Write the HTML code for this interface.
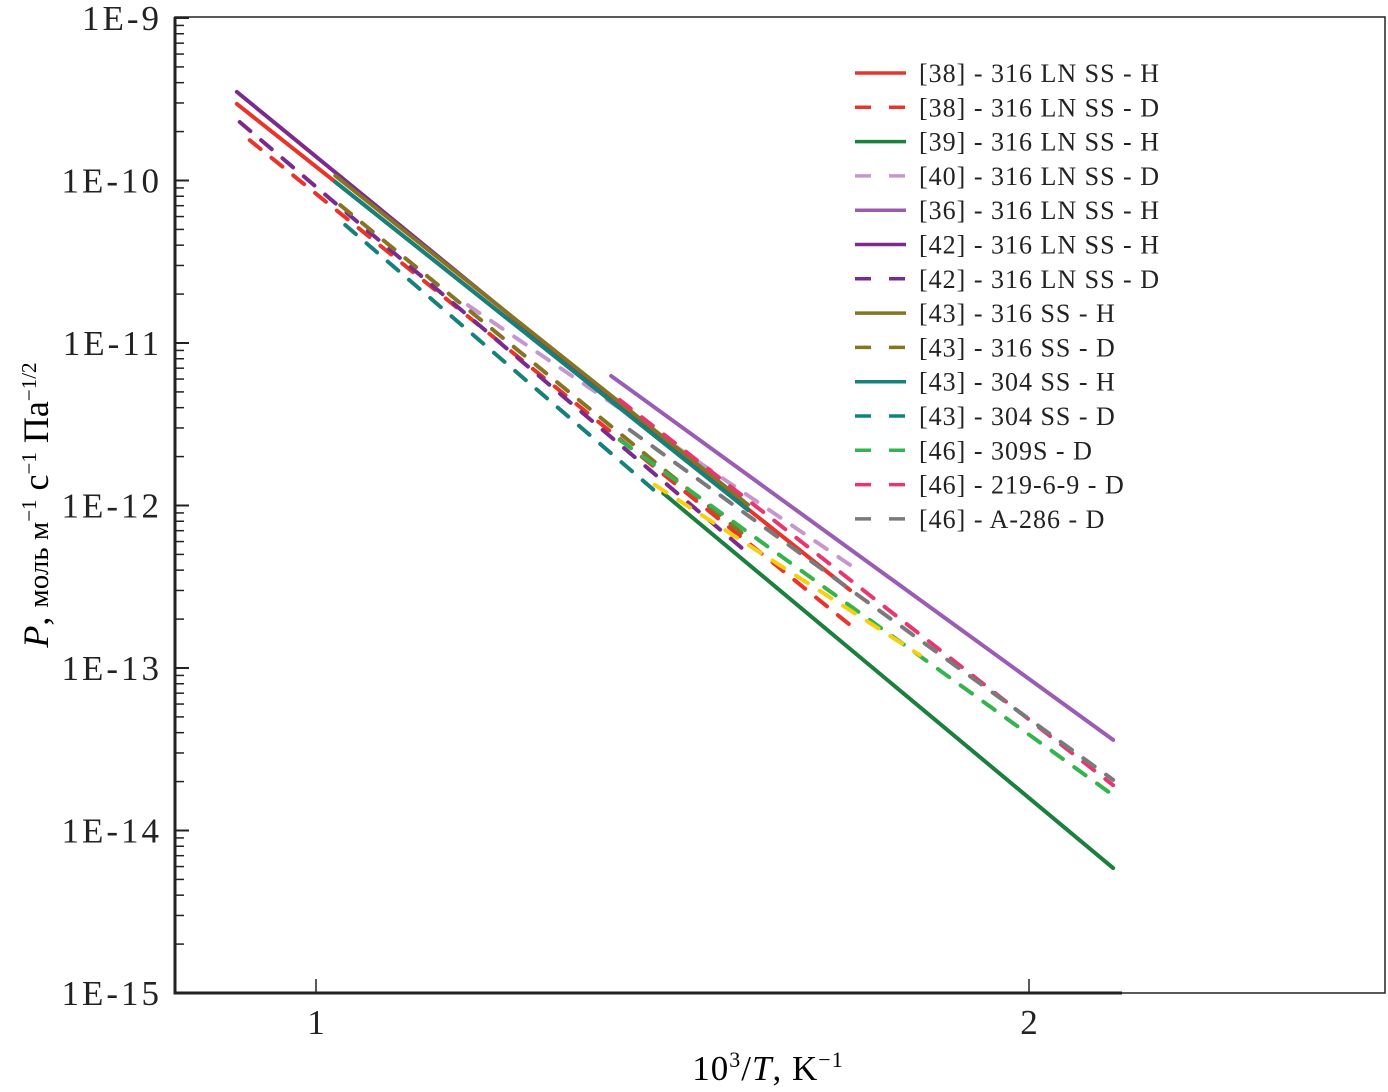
<!DOCTYPE html>
<html><head><meta charset="utf-8">
<style>
html,body{margin:0;padding:0;background:#fff;}
svg{display:block;font-family:"Liberation Serif","DejaVu Serif",serif;}
</style></head>
<body>
<svg id="chart" width="1388" height="1092" viewBox="0 0 1388 1092" xmlns="http://www.w3.org/2000/svg">
<g id="axes"></g>
<g id="series"></g>
<g id="legend"></g>
<text x="768" y="1080" font-size="35" letter-spacing="1" text-anchor="middle">10<tspan font-size="22" dy="-13">3</tspan><tspan dy="13">/</tspan><tspan font-style="italic">T</tspan>, K<tspan font-size="22" dy="-13">−1</tspan></text>
<text transform="translate(48,505) rotate(-90)" font-size="36" text-anchor="middle"><tspan font-style="italic">P</tspan>, <tspan font-size="29">моль м</tspan><tspan font-size="21" dy="-12">−1</tspan><tspan dy="12"> с</tspan><tspan font-size="21" dy="-12">−1</tspan><tspan dy="12"> Па</tspan><tspan font-size="21" dy="-12">−1/2</tspan></text>
</svg>
<script>
// axis domain
const xTicks = [1, 2];
const yExps = [-9, -10, -11, -12, -13, -14, -15];
// series data: names, colors, dashed, endpoints (x = 10^3/T, P)
const names = ["[38] - 316 LN SS - H","[38] - 316 LN SS - D","[39] - 316 LN SS - H","[40] - 316 LN SS - D","[36] - 316 LN SS - H","[42] - 316 LN SS - H","[42] - 316 LN SS - D","[43] - 316 SS - H","[43] - 316 SS - D","[43] - 304 SS - H","[43] - 304 SS - D","[46] - 309S - D","[46] - 219-6-9 - D","[46] - A-286 - D","unlabeled-yellow-D"];
const colors = ["#e8342a","#e8342a","#1b7f3e","#c896cf","#9b5db3","#7b2a8e","#7b2a8e","#857422","#857422","#16807a","#16807a","#35b34f","#e8376f","#7a7a7a","#f5cf10"];
const dashed = [false,true,false,true,false,false,true,false,true,false,true,true,true,true,true];
const x1 = [0.889,0.907,1.487,1.213,1.414,0.889,0.893,1.027,1.034,1.027,1.041,1.426,1.426,1.440,1.475];
const x2 = [1.749,1.749,2.118,1.749,2.118,1.606,1.609,1.606,1.609,1.606,1.482,2.118,2.118,2.118,1.847];
const p1 = [2.96e-10,1.77e-10,1.19e-12,1.71e-11,6.27e-12,3.51e-10,2.29e-10,1.07e-10,7.06e-11,9.8e-11,5.32e-11,2.53e-12,4.46e-12,2.92e-12,1.34e-12];
const p2 = [3.02e-13,1.84e-13,5.87e-15,4.31e-13,3.61e-14,9.38e-13,4.95e-13,1.01e-12,6.14e-13,9.38e-13,1.16e-12,1.65e-14,1.9e-14,2.05e-14,1.2e-13];

const NS = "http://www.w3.org/2000/svg";
const L = 175, R = 1385, T = 17, B = 993;
function xs(v){ return 316 + (v - 1) * 713; }
function ys(p){ return 18 + (-9 - Math.log10(p)) * 162.5; }
function mk(tag, attrs, parent){ const e = document.createElementNS(NS, tag); for (const k in attrs) e.setAttribute(k, attrs[k]); parent.appendChild(e); return e; }

const axes = document.getElementById('axes');
const frame = mk('rect', {x:L, y:T, width:R-L, height:B-T, fill:'none', stroke:'#222', 'stroke-width':1.5}, axes);


const lax = mk('line', {x1:L, y1:T, x2:L, y2:B+1.5, stroke:'#222', 'stroke-width':3}, axes);


const bax = mk('line', {x1:L, y1:B, x2:1122, y2:B, stroke:'#222', 'stroke-width':3}, axes);


yExps.forEach(e => {
  const y = ys(Math.pow(10, e));
  const t = mk('line', {x1:L, y1:y, x2:L+14, y2:y, stroke:'#222', 'stroke-width':2}, axes);
  
  
  const lb = mk('text', {x:162, y:y+12, 'font-size':35, 'letter-spacing':3, 'text-anchor':'end', fill:'#222'}, axes);
  lb.textContent = '1E' + e;
  
  
  if (e > -15) {
    for (let m = 2; m <= 9; m++) {
      const yy = ys(m * Math.pow(10, e - 1));
      const mt = mk('line', {x1:L, y1:yy, x2:L+9, y2:yy, stroke:'#222', 'stroke-width':1.5}, axes);
      
      
    }
  }
});
xTicks.forEach(v => {
  const x = xs(v);
  const t = mk('line', {x1:x, y1:B, x2:x, y2:B-14, stroke:'#222', 'stroke-width':1.5}, axes);
  
  
  const lb = mk('text', {x:x, y:1034, 'font-size':35, 'text-anchor':'middle', fill:'#222'}, axes);
  lb.textContent = String(v);
  
  
});

const sg = document.getElementById('series');
const lg = document.getElementById('legend');
names.forEach((n, i) => {
  const ln = mk('line', {x1:xs(x1[i]), y1:ys(p1[i]), x2:xs(x2[i]), y2:ys(p2[i]), stroke:colors[i], 'stroke-width':4, 'stroke-linecap':'round'}, sg);
  if (dashed[i]) ln.setAttribute('stroke-dasharray', '14 14');
  
  
  if (i < 14) {
    const y = 73 + i * 34.3;
    const ll = mk('line', {x1:855, y1:y, x2:906, y2:y, stroke:colors[i], 'stroke-width':3.5}, lg);
    if (dashed[i]) ll.setAttribute('stroke-dasharray', '16 18');
    
    
    const tx = mk('text', {x:919, y:y+9, 'font-size':26, 'letter-spacing':1, fill:'#222'}, lg);
    tx.textContent = n;
    
    
  }
});
</script>
</body></html>
